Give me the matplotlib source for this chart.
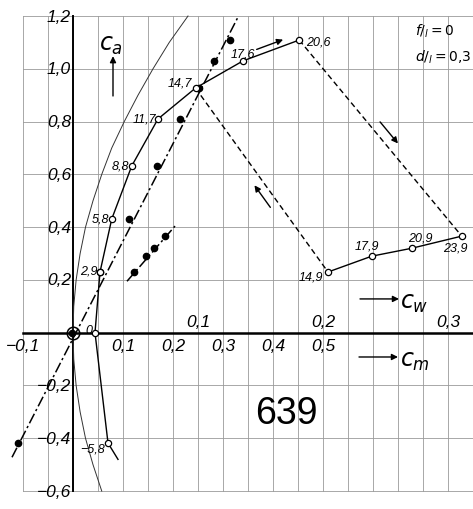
import numpy as np
import matplotlib
matplotlib.use('Agg')
import matplotlib.pyplot as plt

plt.rcParams['mathtext.fontset'] = 'dejavusans'
FONT = 'Liberation Sans'

# polar c_a(c_w), attached flow (angle of attack labels)
alpha_up = ['−5,8', '0', '2,9', '5,8', '8,8', '11,7', '14,7', '17,6', '20,6']
cw_up = [0.028, 0.0176, 0.0216, 0.031, 0.047, 0.068, 0.098, 0.136, 0.181]
ca_up = [-0.418, 0.0, 0.23, 0.431, 0.632, 0.81, 0.927, 1.03, 1.109]
cw_low_end = 0.036
ca_low_end = -0.48

# polar after the stall
alpha_dn = ['14,9', '17,9', '20,9', '23,9']
cw_dn = [0.204, 0.239, 0.271, 0.311]
ca_dn = [0.23, 0.29, 0.32, 0.366]

# moment coefficient c_m for the same points
cm_up = [-0.11, -0.003, 0.054, 0.112, 0.168, 0.214, 0.252, 0.282, 0.314]
cm_dn = [0.122, 0.146, 0.162, 0.184]
cm_line_up = [-0.122, 0.33]
ca_line_up = [-0.472, 1.196]
cm_line_dn = [0.108, 0.204]
ca_line_dn = [0.195, 0.404]

# induced drag parabola, aspect ratio 5
ca_par = [-0.6, -0.5, -0.4, -0.3, -0.2, -0.1, 0.0, 0.1, 0.2, 0.3,
          0.4, 0.5, 0.6, 0.7, 0.8, 0.9, 1.0, 1.1, 1.2]
cw_par = [0.023, 0.016, 0.010, 0.0057, 0.0025, 0.0006, 0.0, 0.0006, 0.0025,
          0.0057, 0.010, 0.016, 0.023, 0.031, 0.041, 0.052, 0.064, 0.077, 0.092]

ca_ticks = [1.2, 1.0, 0.8, 0.6, 0.4, 0.2, -0.2, -0.4, -0.6]
cw_ticks = [0.1, 0.2, 0.3]
cm_ticks = [-0.1, 0.1, 0.2, 0.3, 0.4, 0.5]

CM = 0.4  # c_m drawn on the c_w axis at 2.5x the scale


def fmt(v):
    s = f'{abs(v):.1f}'.replace('.', ',')
    return ('−' if v < 0 else '') + s


fig = plt.figure(figsize=(4.73, 5.10), dpi=100)
ax = fig.add_axes([0, 0, 1, 1])
ax.set_xlim(-0.0584, 0.32)
ax.set_ylim(-0.668, 1.2645)
ax.axis('off')

gc = '#9a9a9a'
for x in np.arange(-0.04, 0.3201, 0.02):
    ax.plot([x, x], [-0.6, 1.2], color=gc, lw=0.6, zorder=1)
for y in np.arange(-0.6, 1.201, 0.2):
    ax.plot([-0.04, 0.32], [y, y], color=gc, lw=0.6, zorder=1)
ax.plot([-0.04, 0.32], [0, 0], color='k', lw=1.8, zorder=2)
ax.plot([0, 0], [-0.6, 1.2], color='k', lw=1.4, zorder=2)

tk = dict(fontfamily=FONT, fontstyle='italic', fontsize=12.5,
          textcoords='offset points')
for v in ca_ticks:
    ax.annotate(fmt(v), (0, v), xytext=(-1.5, 0), ha='right', va='center', **tk)
for v in cw_ticks:
    ax.annotate(fmt(v), (v, 0), xytext=(0, 2.5), ha='center', va='bottom', **tk)
for v in cm_ticks:
    ax.annotate(fmt(v), (v * CM, 0), xytext=(0, -4), ha='center', va='top', **tk)

# parabola
ax.plot(cw_par, ca_par, color='#333333', lw=0.7, zorder=3)

# moment lines and points
dd = (0, (7, 2, 1.5, 2))
ax.plot(np.array(cm_line_up) * CM, ca_line_up, color='k', lw=1.1, ls=dd, zorder=3)
ax.plot(np.array(cm_line_dn) * CM, ca_line_dn, color='k', lw=1.1, ls=dd, zorder=3)
ax.plot(np.array(cm_up) * CM, ca_up, 'o', color='k', ms=4.5, zorder=5)
ax.plot(np.array(cm_dn) * CM, ca_dn, 'o', color='k', ms=4.5, zorder=5)
ax.plot([0], [0], 'o', mfc='none', mec='k', ms=9, mew=1.1, zorder=6)

# polar lines
ax.plot([cw_low_end] + cw_up, [ca_low_end] + ca_up, color='k', lw=1.0, zorder=4)
ax.plot(cw_dn, ca_dn, color='k', lw=1.0, zorder=4)
dash = (0, (4, 2.5))
ax.plot([cw_up[-1], cw_dn[-1]], [ca_up[-1], ca_dn[-1]], color='k', lw=1.0, ls=dash, zorder=4)
ax.plot([cw_up[6], cw_dn[0]], [ca_up[6], ca_dn[0]], color='k', lw=1.0, ls=dash, zorder=4)
ax.plot(cw_up, ca_up, 'o', mfc='white', mec='k', ms=4.5, mew=0.9, zorder=7)
ax.plot(cw_dn, ca_dn, 'o', mfc='white', mec='k', ms=4.5, mew=0.9, zorder=7)

# angle labels: offset in points, alignment
off_up = [(-2, -4, 'right'), (-2, 2, 'right'), (-2, 1, 'right'), (-2, 0, 'right'),
          (-2, 0, 'right'), (-1.5, 0, 'right'), (-2.5, 4, 'right'), (0, 5, 'center'),
          (5, -1, 'left')]
off_dn = [(-3.5, -3, 'right'), (-3.5, 8, 'center'), (6.5, 8, 'center'), (-4.5, -8, 'center')]
lk = dict(fontfamily=FONT, fontstyle='italic', fontsize=9, va='center',
          textcoords='offset points', zorder=8)
for lab, x, y, (dx, dy, ha) in zip(alpha_up, cw_up, ca_up, off_up):
    ax.annotate(lab, (x, y), xytext=(dx, dy), ha=ha, **lk)
for lab, x, y, (dx, dy, ha) in zip(alpha_dn, cw_dn, ca_dn, off_dn):
    ax.annotate(lab, (x, y), xytext=(dx, dy), ha=ha, **lk)

aprops = dict(arrowstyle='-|>', color='k', lw=1.0, mutation_scale=9,
              shrinkA=0, shrinkB=0)


def seg_arrow(p0, p1, t0, t1, off):
    a = ax.transData.transform(p0)
    b = ax.transData.transform(p1)
    d = b - a
    u = d / np.hypot(*d)
    n = np.array([-u[1], u[0]])
    inv = ax.transData.inverted()
    s = inv.transform(a + d * t0 + n * off)
    e = inv.transform(a + d * t1 + n * off)
    ax.annotate('', xy=e, xytext=s, arrowprops=aprops, zorder=8)


seg_arrow((cw_up[7], ca_up[7]), (cw_up[8], ca_up[8]), 0.28, 0.75, 6)
seg_arrow((cw_up[8], ca_up[8]), (cw_dn[3], ca_dn[3]), 0.45, 0.56, 10)
seg_arrow((cw_up[6], ca_up[6]), (cw_dn[0], ca_dn[0]), 0.62, 0.50, -9)

# axis names
ax.annotate('', xy=(0.032, 1.048), xytext=(0.032, 0.897), arrowprops=aprops)
ax.text(0.0305, 1.094, r'$c_a$', fontsize=17, ha='center', va='center')
ax.annotate('', xy=(0.2608, 0.128), xytext=(0.2296, 0.128), arrowprops=aprops)
ax.text(0.262, 0.118, r'$c_w$', fontsize=17, ha='left', va='center')
ax.annotate('', xy=(0.26, -0.092), xytext=(0.2288, -0.092), arrowprops=aprops)
ax.text(0.262, -0.102, r'$c_m$', fontsize=17, ha='left', va='center')

ax.text(0.1704, -0.304, '639', fontfamily=FONT, fontsize=27, ha='center', va='center')
ax.text(0.2736, 1.147, r'$f/_{l}=0$', fontsize=10, ha='left', va='center')
ax.text(0.2736, 1.048, r'$d/_{l}=0{,}3$', fontsize=10, ha='left', va='center')

fig.savefig('out.png', dpi=100, facecolor='white')
